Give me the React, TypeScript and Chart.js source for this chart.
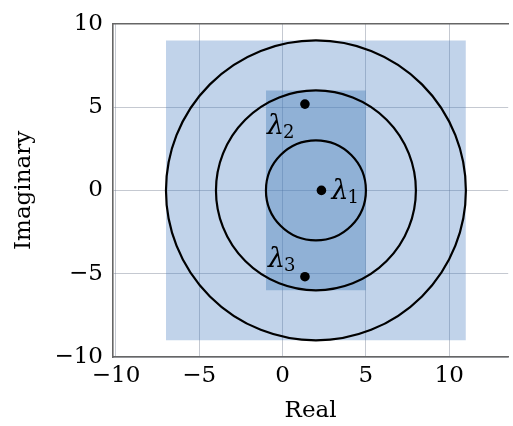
import React, { useEffect, useRef } from "react";
import { Chart, registerables } from "chart.js";

Chart.register(...registerables);

// ---- data ----
const outerRectX = [-7, 11];
const outerRectY = [-9, 9];
const innerRectX = [-1, 5];
const innerRectY = [-6, 6];
const discCenter = [2, 0];
const discRadii = [3, 6, 9];
const eigRe = [2.33, 1.34, 1.34];
const eigIm = [0, 5.18, -5.18];
const eigSub = ["1", "2", "3"];
const xTicks = [-10, -5, 0, 5, 10];
const yTicks = [-10, -5, 0, 5, 10];
const xRange = [-10.18, 13.54];
const yRange = [-10, 10];

// ---- style ----
const FONT = '"DejaVu Serif", serif';
const labelOffsets: [number, number][] = [
  [10, 8.5],
  [-38, 30],
  [-37, -10],
];
const gridColor = "rgba(110,120,140,0.40)";
const borderColor = "#666";

const fmt = (v: number | string) => String(v).replace("-", "\u2212");

const discPlugin = {
  id: "discs",
  afterDatasetDraw(chart: any, args: any) {
    if (args.index !== 1) return;
    const { ctx, scales } = chart;
    const x = scales.x, y = scales.y;
    const cx = x.getPixelForValue(discCenter[0]);
    const cy = y.getPixelForValue(discCenter[1]);
    ctx.save();
    ctx.strokeStyle = "#000";
    ctx.lineWidth = 2.2;
    discRadii.forEach((r) => {
      const rx = Math.abs(x.getPixelForValue(discCenter[0] + r) - cx);
      const ry = Math.abs(y.getPixelForValue(discCenter[1] + r) - cy);
      ctx.beginPath();
      ctx.ellipse(cx, cy, rx, ry, 0, 0, Math.PI * 2);
      ctx.stroke();
    });
    ctx.restore();
  },
};

const labelPlugin = {
  id: "eigLabels",
  afterDatasetsDraw(chart: any) {
    const { ctx, scales } = chart;
    ctx.save();
    ctx.fillStyle = "#000";
    ctx.textAlign = "left";
    ctx.textBaseline = "alphabetic";
    eigRe.forEach((re, i) => {
      const px = scales.x.getPixelForValue(re);
      const py = scales.y.getPixelForValue(eigIm[i]);
      const [dx, dy] = labelOffsets[i];
      ctx.font = `italic 27px ${FONT}`;
      ctx.fillText("\u03bb", px + dx, py + dy);
      const w = ctx.measureText("\u03bb").width;
      ctx.font = `18px ${FONT}`;
      ctx.fillText(eigSub[i], px + dx + w - 1, py + dy + 4);
    });
    ctx.restore();
  },
};

export default function App() {
  const ref = useRef<HTMLCanvasElement | null>(null);
  useEffect(() => {
    if (!ref.current) return;
    const chart = new Chart(ref.current, {
      type: "scatter",
      data: {
        datasets: [
          {
            data: eigRe.map((re, i) => ({ x: re, y: eigIm[i] })),
            pointRadius: 4.8,
            pointBackgroundColor: "#000",
            backgroundColor: "#000",
            pointBorderWidth: 0,
            borderColor: "#000",
          },
          {
            data: [
              { x: innerRectX[0], y: innerRectY[1] },
              { x: innerRectX[1], y: innerRectY[1] },
            ],
            showLine: true,
            borderWidth: 0,
            pointRadius: 0,
            backgroundColor: "rgba(70,124,186,0.40)",
            fill: { value: innerRectY[0] },
          } as any,
          {
            data: [
              { x: outerRectX[0], y: outerRectY[1] },
              { x: outerRectX[1], y: outerRectY[1] },
            ],
            showLine: true,
            borderWidth: 0,
            pointRadius: 0,
            backgroundColor: "rgba(66,120,190,0.33)",
            fill: { value: outerRectY[0] },
          } as any,
        ],
      },
      options: {
        responsive: false,
        animation: false,
        events: [],
        layout: { padding: { top: 21, left: 0, right: 0, bottom: 0 } },
        plugins: { legend: { display: false }, tooltip: { enabled: false } },
        scales: {
          x: {
            type: "linear",
            position: "bottom",
            min: xRange[0],
            max: xRange[1],
            afterBuildTicks: (s: any) => {
              s.ticks = xTicks.map((v) => ({ value: v }));
            },
            afterFit: (s: any) => {
              s.height = 69;
            },
            grid: { color: gridColor, lineWidth: 1, drawTicks: false },
            border: { display: true, color: borderColor, width: 1.6 },
            ticks: {
              color: "#000",
              font: { family: FONT, size: 23 },
              padding: 5,
              maxRotation: 0,
              callback: (v: any) => fmt(v),
            },
            title: {
              display: true,
              text: "Real",
              color: "#000",
              font: { family: FONT, size: 23 },
              padding: { top: 0, bottom: 1 },
            },
          },
          x2: {
            type: "linear",
            position: "top",
            min: xRange[0],
            max: xRange[1],
            grid: { display: false, drawTicks: false },
            ticks: { display: false },
            border: { display: true, color: borderColor, width: 1.6 },
            afterFit: (s: any) => {
              s.height = 0;
            },
          },
          y: {
            type: "linear",
            position: "left",
            min: yRange[0],
            max: yRange[1],
            afterBuildTicks: (s: any) => {
              s.ticks = yTicks.map((v) => ({ value: v }));
            },
            afterFit: (s: any) => {
              s.width = 113;
            },
            grid: { color: gridColor, lineWidth: 1, drawTicks: false },
            border: { display: true, color: borderColor, width: 1.6 },
            ticks: {
              color: "#000",
              font: { family: FONT, size: 23 },
              padding: 10,
              callback: (v: any) => fmt(v),
            },
            title: {
              display: true,
              text: "Imaginary",
              color: "#000",
              font: { family: FONT, size: 23 },
              padding: { top: 10, bottom: 0 },
            },
          },
        },
      } as any,
      plugins: [discPlugin, labelPlugin],
    });
    return () => chart.destroy();
  }, []);
  return (
    <div style={{ position: "fixed", left: 0, top: 0, width: 513, height: 426, background: "#fff" }}>
      <canvas ref={ref} width={513} height={426} style={{ display: "block" }} />
    </div>
  );
}
